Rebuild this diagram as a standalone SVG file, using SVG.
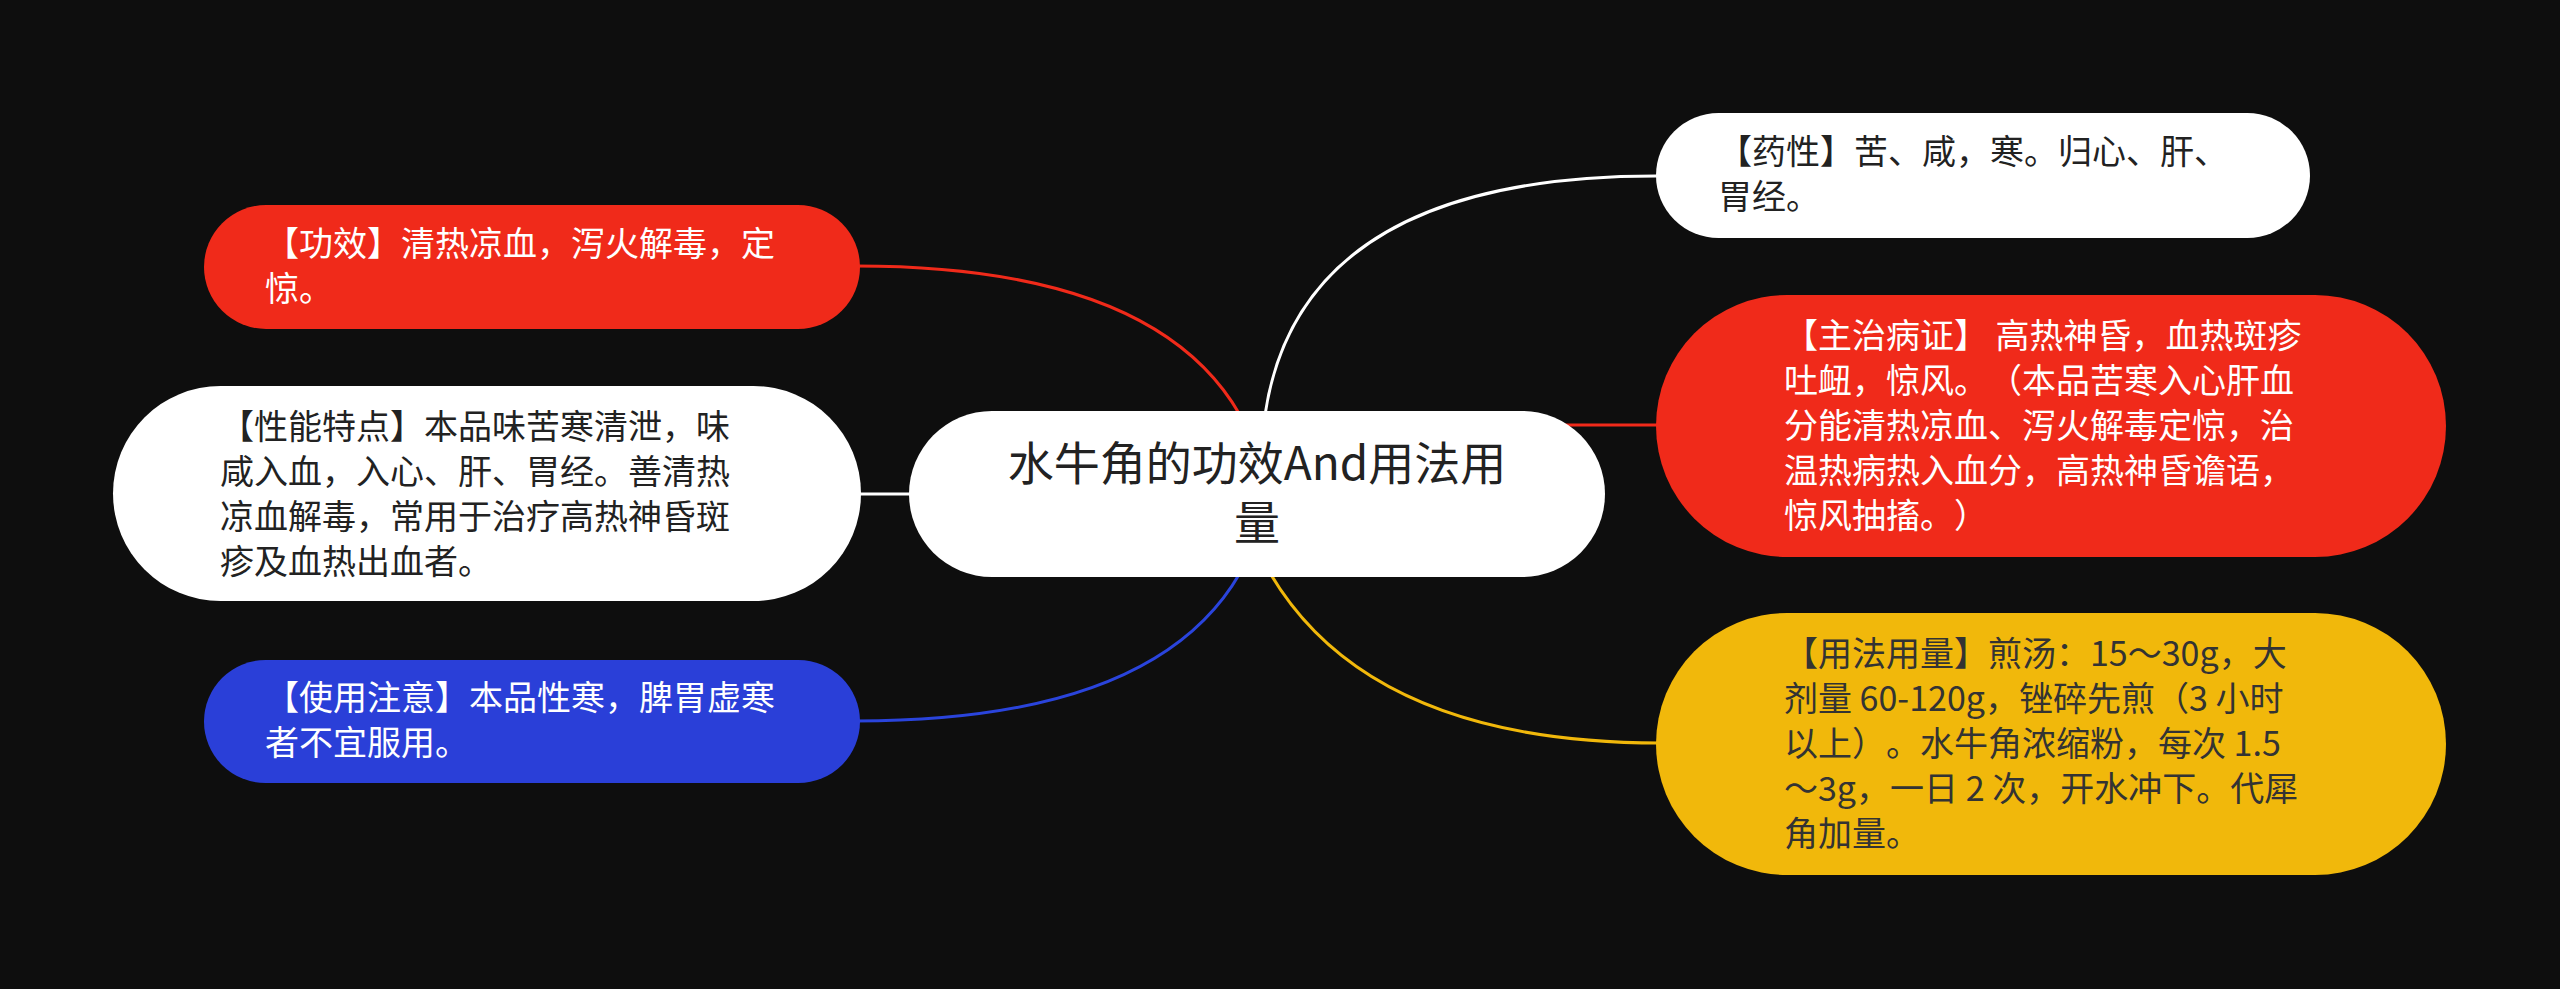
<svg xmlns="http://www.w3.org/2000/svg" width="2560" height="989" viewBox="0 0 2560 989">
<style>
text{text-spacing-trim:space-all}
.t{font-family:"Noto Sans CJK SC","Noto Sans",sans-serif;font-size:34px}
.c{font-family:"Noto Sans CJK SC","Noto Sans",sans-serif;font-size:46px;fill:#222;text-anchor:middle}
.dk{fill:#222}
.lt{fill:#ffffff}
.yk{fill:#333}
.ln{fill:none;stroke-width:3;stroke-linecap:round}
</style>
<rect x="0" y="0" width="2560" height="989" fill="#0e0e0e"/>
<g id="connectors">
<path class="ln" stroke="#ffffff" d="M 1265 415 Q 1300 176 1656 176"/>
<path class="ln" stroke="#f02a1a" d="M 1560 425 L 1660 425"/>
<path class="ln" stroke="#f1b80b" d="M 1270 573 Q 1370 743 1660 743"/>
<path class="ln" stroke="#f02a1a" d="M 1240 415 Q 1155 266 856 266"/>
<path class="ln" stroke="#ffffff" d="M 915 494 L 856 494"/>
<path class="ln" stroke="#2a44dc" d="M 1240 573 Q 1155 721 856 721"/>
</g>
<g id="center">
<rect x="909" y="411" width="696" height="166" rx="83" ry="83" fill="#ffffff"/>
<text class="c"><tspan x="1257" y="480">水牛角的功效And用法用</tspan><tspan x="1257" y="539">量</tspan></text>
</g>
<g id="node-gongxiao">
<rect x="204" y="205" width="656" height="124" rx="62" ry="62" fill="#f02a1a"/>
<text class="t lt" x="265" y="255.5">【功效】清热凉血，泻火解毒，定</text>
<text class="t lt" x="265" y="300.5">惊。</text>
</g>
<g id="node-xingneng">
<rect x="113" y="386" width="748" height="215" rx="107.5" ry="107.5" fill="#ffffff"/>
<text class="t dk" x="220" y="438.5">【性能特点】本品味苦寒清泄，味</text>
<text class="t dk" x="220" y="483.5">咸入血，入心、肝、胃经。善清热</text>
<text class="t dk" x="220" y="528.5">凉血解毒，常用于治疗高热神昏斑</text>
<text class="t dk" x="220" y="573.5">疹及血热出血者。</text>
</g>
<g id="node-zhuyi">
<rect x="204" y="660" width="656" height="123" rx="61.5" ry="61.5" fill="#2a3fd8"/>
<text class="t lt" x="265" y="710">【使用注意】本品性寒，脾胃虚寒</text>
<text class="t lt" x="265" y="755">者不宜服用。</text>
</g>
<g id="node-yaoxing">
<rect x="1656" y="113" width="654" height="125" rx="62.5" ry="62.5" fill="#ffffff"/>
<text class="t dk" x="1718" y="164">【药性】苦、咸，寒。归心、肝、</text>
<text class="t dk" x="1718" y="209">胃经。</text>
</g>
<g id="node-zhuzhi">
<rect x="1656" y="295" width="790" height="262" rx="131" ry="131" fill="#f02a1a"/>
<text class="t lt" x="1784" y="347.5">【主治病证】 高热神昏，血热斑疹</text>
<text class="t lt" x="1784" y="392.5">吐衄，惊风。（本品苦寒入心肝血</text>
<text class="t lt" x="1784" y="437.5">分能清热凉血、泻火解毒定惊，治</text>
<text class="t lt" x="1784" y="482.5">温热病热入血分，高热神昏谵语，</text>
<text class="t lt" x="1784" y="527.5">惊风抽搐。）</text>
</g>
<g id="node-yongfa">
<rect x="1656" y="613" width="790" height="262" rx="131" ry="131" fill="#f1b80b"/>
<text class="t yk" x="1784" y="665.5">【用法用量】煎汤：15～30g，大</text>
<text class="t yk" x="1784" y="710.5">剂量 60-120g，锉碎先煎（3 小时</text>
<text class="t yk" x="1784" y="755.5">以上）。水牛角浓缩粉，每次 1.5</text>
<text class="t yk" x="1784" y="800.5">～3g，一日 2 次，开水冲下。代犀</text>
<text class="t yk" x="1784" y="845.5">角加量。</text>
</g>
</svg>
